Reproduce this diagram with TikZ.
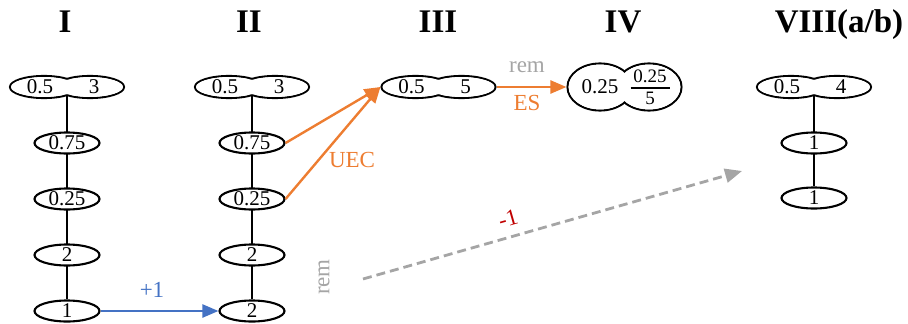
\documentclass[tikz,border=0pt]{standalone}
\usepackage{fontspec}
\setmainfont{Liberation Serif}
\usetikzlibrary{arrows.meta,shapes.geometric,backgrounds}
\definecolor{cOrange}{HTML}{ED7D31}
\definecolor{cBlue}{HTML}{4472C4}
\definecolor{cGray}{HTML}{A5A5A5}
\definecolor{cRed}{HTML}{C00000}
\newcommand\mkpair[5]{%
  \node[pl] (#1a) at (#2-23,#3) {};
  \node[pl] (#1b) at (#2+23,#3) {};
  \node[plin] (#1c) at (#2-23,#3) {};
  \node[plin] (#1d) at (#2+23,#3) {};
  \node[num] (#1l) at (#2-27,#3) {#4};
  \node[num] (#1r) at (#2+27,#3) {#5};
  \coordinate (#1) at (#2,#3);}
\begin{document}
\begin{tikzpicture}[x=1pt,y=-1pt,
  el/.style={ellipse,draw,line width=2.1pt,fill=white,inner sep=0pt,minimum width=65pt,minimum height=21pt,font=\fontsize{21}{21}\selectfont},
  pl/.style={ellipse,draw,line width=2.1pt,inner sep=0pt,minimum width=68pt,minimum height=22pt},
  plin/.style={ellipse,fill=white,inner sep=0pt,minimum width=65.9pt,minimum height=19.9pt},
  num/.style={inner sep=0pt,font=\fontsize{21}{21}\selectfont},
  ttl/.style={anchor=base,inner sep=0pt,font=\fontsize{33}{33}\selectfont\bfseries},
  lbl/.style={inner sep=0pt,font=\fontsize{23}{23}\selectfont},
  conn/.style={line width=1.3pt},
  arr/.style={line width=2.4pt,-{Triangle[length=16pt,width=13pt]}}]
\useasboundingbox (0,0) rectangle (908,324);
% titles
\node[ttl] (t1) at (65,32) {I};
\node[ttl] (t2) at (249,32) {II};
\node[ttl] (t3) at (438,32) {III};
\node[ttl] (t4) at (623,32) {IV};
\node[ttl] (t8) at (839,32) {VIII(a/b)};
% column I
\mkpair{pI}{67}{87}{0.5}{3}
\node[el] (i1) at (67,143) {0.75};
\node[el] (i2) at (67,199) {0.25};
\node[el] (i3) at (67,255) {2};
\node[el] (i4) at (67,311) {1};
% column II
\mkpair{pII}{252}{87}{0.5}{3}
\node[el] (ii1) at (252,143) {0.75};
\node[el] (ii2) at (252,199) {0.25};
\node[el] (ii3) at (252,255) {2};
\node[el] (ii4) at (252,311) {2};
% column III
\mkpair{pIII}{438.5}{87}{0.5}{5}
% column IV
\node[pl,minimum width=65pt,minimum height=47pt] (pIVa) at (600,87) {};
\node[pl,minimum width=65pt,minimum height=47pt] (pIVb) at (649,87) {};
\node[plin,minimum width=62.9pt,minimum height=44.9pt] (pIVc) at (600,87) {};
\node[plin,minimum width=62.9pt,minimum height=44.9pt] (pIVd) at (649,87) {};
\node[num] (pIVl) at (600,87) {0.25};
\node[num,font=\fontsize{19}{19}\selectfont] (pIVn) at (650,76) {0.25};
\node[num,font=\fontsize{19}{19}\selectfont] (pIVden) at (650,98) {5};
\draw[line width=1.2pt] (630.5,88) -- (669.5,88);
% column VIII
\mkpair{pV}{814}{87}{0.5}{4}
\node[el] (v1) at (814,143) {1};
\node[el] (v2) at (814,198) {1};
% vertical connectors
\begin{scope}[on background layer]
\draw[conn] (pI) -- (i4);
\draw[conn] (pII) -- (ii4);
\draw[conn] (pV) -- (v2);
\end{scope}
% arrows
\draw[arr,cBlue] (i4) -- (ii4);
\node[lbl,cBlue,anchor=base] (lp1) at (152,297) {+1};
\draw[arr,cOrange] (ii1.east) -- (pIIIa.west);
\draw[arr,cOrange] (ii2.east) -- (pIIIa.west);
\node[lbl,cOrange,anchor=base] (luec) at (352,167) {UEC};
\draw[arr,cOrange] (pIIIb.east) -- (pIVa.west);
\node[lbl,cGray,anchor=base] (lrem1) at (527,72) {rem};
\node[lbl,cOrange,anchor=base] (les) at (527,110) {ES};
\coordinate (g0) at (363,279);
\coordinate (g1) at (742,171);
\draw[line width=2.8pt,cGray,dash pattern=on 9pt off 5pt,-{Triangle[length=17pt,width=14pt]}] (g0) -- (g1);
\node[lbl,cRed,rotate=16] (lm1) at (508,219) {-1};
\node[lbl,cGray,rotate=90] (lrem2) at (324,277) {rem};
\end{tikzpicture}
\end{document}
